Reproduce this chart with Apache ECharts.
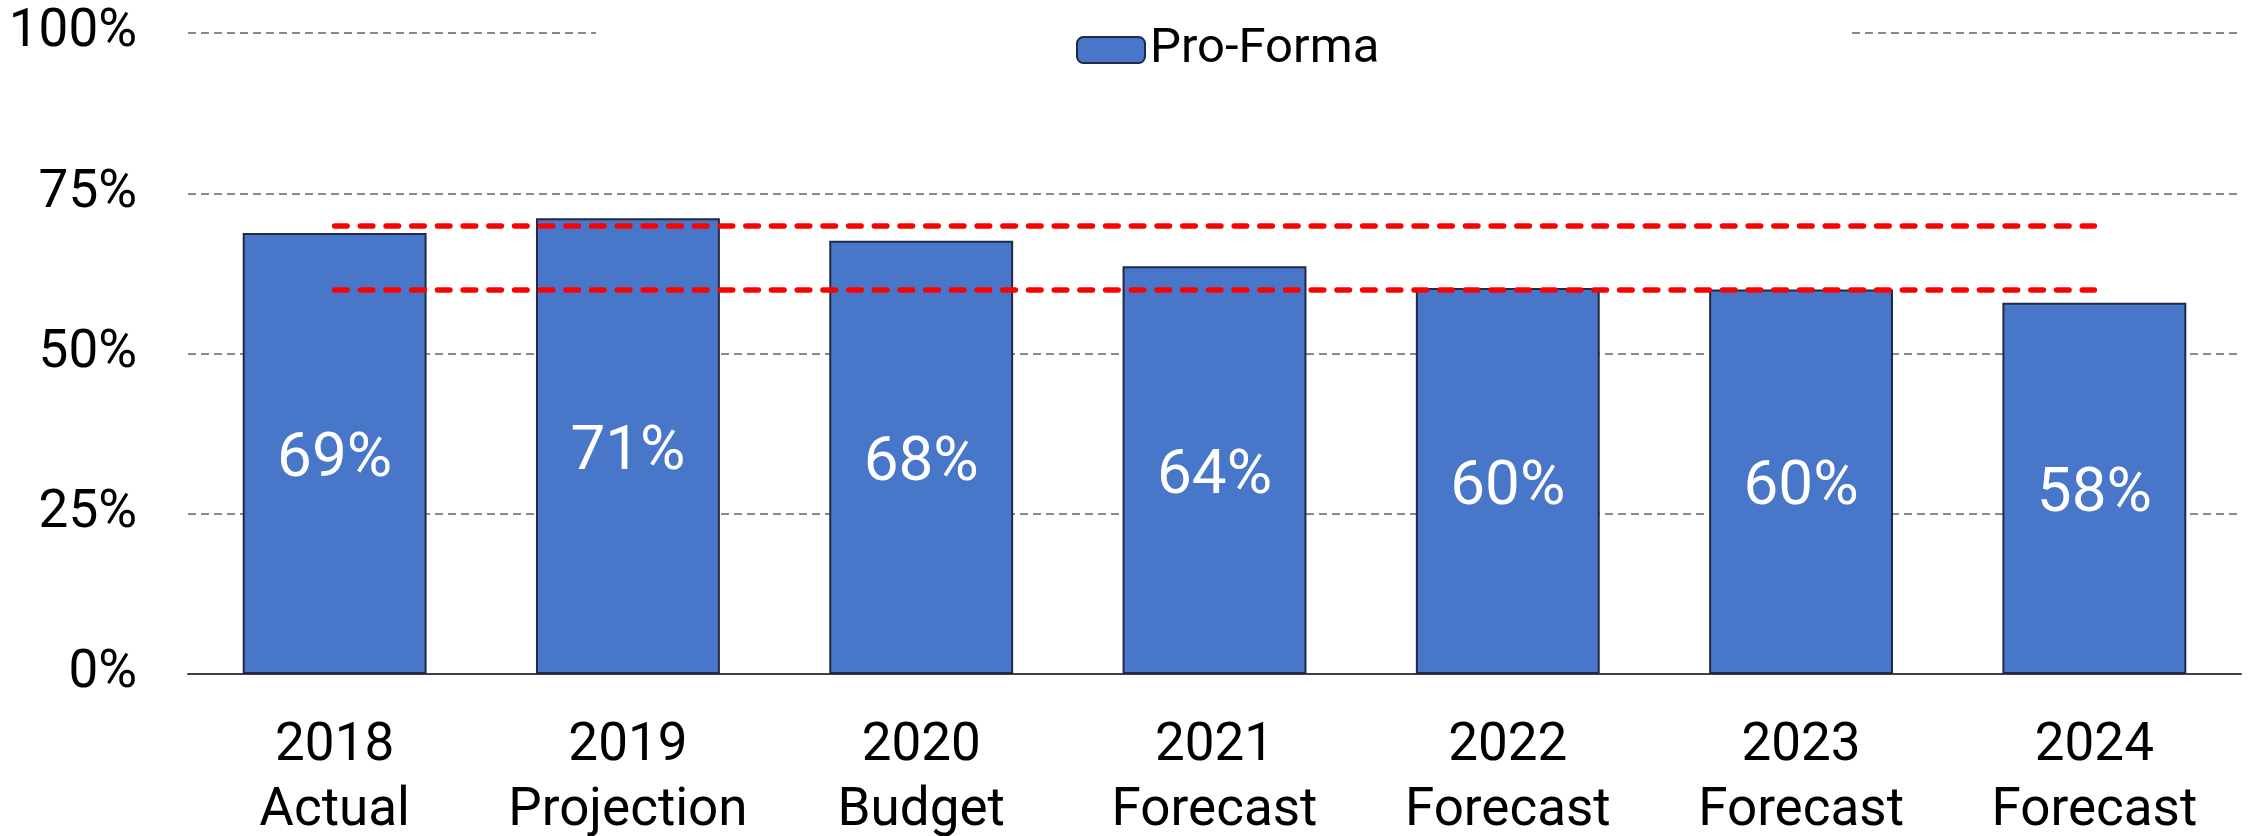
<!DOCTYPE html>
<html>
<head>
<meta charset="utf-8">
<title>Pro-Forma</title>
<script src="https://cdn.jsdelivr.net/npm/echarts@6/dist/echarts.min.js"></script>
<style>
    html, body { margin: 0; padding: 0; background: #fff; }
    #chart { width: 2251px; height: 836px; }
</style>
</head>
<body>
<div id="chart"></div>
<script>
// chart data
const years = ['2018', '2019', '2020', '2021', '2022', '2023', '2024'];
const stages = ['Actual', 'Projection', 'Budget', 'Forecast', 'Forecast', 'Forecast', 'Forecast'];
const proForma = [0.688, 0.711, 0.676, 0.636, 0.602, 0.600, 0.579];
const targetLines = [0.70, 0.60];
const yTicks = [0, 0.25, 0.5, 0.75, 1];

const FONT = 'Roboto, "Noto Sans", sans-serif';
let chartInstances = {};

document.addEventListener('DOMContentLoaded', function() {
    initBarChart();
    window.addEventListener('resize', resizeAllCharts);
});

/**
 * bar chart with red dashed target band
 */
function initBarChart() {
    const dom = document.getElementById('chart');
    chartInstances.bar = echarts.init(dom);

    const categories = years.map((y, i) => y + '\n' + stages[i]);

    // red dashed lines go from first bar centre to last bar centre
    const bandLines = targetLines.map(v => [
        { coord: [0, v] },
        { coord: [categories.length - 1, v] }
    ]);

    chartInstances.bar.setOption({
        animation: false,
        textStyle: { fontFamily: FONT },
        // labels sit close to the page bottom, keep the grid fixed
        grid: { left: 188, right: 10, top: 33, bottom: 162, outerBoundsMode: 'none', containLabel: false },
        legend: {
            data: ['Pro-Forma'],
            left: 596,
            top: 15,
            padding: [10, 470, 60, 480],
            backgroundColor: '#fff',
            itemWidth: 68,
            itemHeight: 26,
            itemStyle: { color: '#4876C9', borderColor: '#1F2A44', borderWidth: 2 },
            textStyle: { fontFamily: FONT, fontSize: 49, color: '#000', lineHeight: 50 }
        },
        xAxis: {
            type: 'category',
            data: categories,
            axisTick: { show: false },
            axisLine: { lineStyle: { color: '#404040', width: 2 } },
            axisLabel: {
                interval: 0,
                margin: 40,
                fontFamily: FONT,
                fontSize: 53,
                lineHeight: 65,
                color: '#000'
            }
        },
        yAxis: {
            type: 'value',
            min: yTicks[0],
            max: yTicks[yTicks.length - 1],
            interval: yTicks[1] - yTicks[0],
            axisLine: { show: false },
            axisTick: { show: false },
            axisLabel: {
                margin: 51,
                fontFamily: FONT,
                fontSize: 53,
                color: '#000',
                formatter: v => Math.round(v * 100) + '%'
            },
            splitLine: {
                lineStyle: { color: '#898989', width: 2, type: [8, 5] }
            }
        },
        series: [{
            name: 'Pro-Forma',
            type: 'bar',
            data: proForma,
            barCategoryGap: '37.3%',
            itemStyle: { color: '#4876C9', borderColor: '#1F2A44', borderWidth: 2 },
            label: {
                show: true,
                position: 'inside',
                offset: [0, 7],
                fontFamily: FONT,
                fontSize: 62,
                color: '#fff',
                formatter: p => Math.round(p.value * 100) + '%'
            },
            markLine: {
                silent: true,
                symbol: ['none', 'none'],
                label: { show: false },
                lineStyle: { color: '#FF0000', width: 5.5, type: [12.5, 13.2], cap: 'round' },
                data: bandLines
            }
        }]
    });
}

/**
 * resize all charts
 */
function resizeAllCharts() {
    Object.values(chartInstances).forEach(chart => chart.resize());
}
</script>
</body>
</html>
